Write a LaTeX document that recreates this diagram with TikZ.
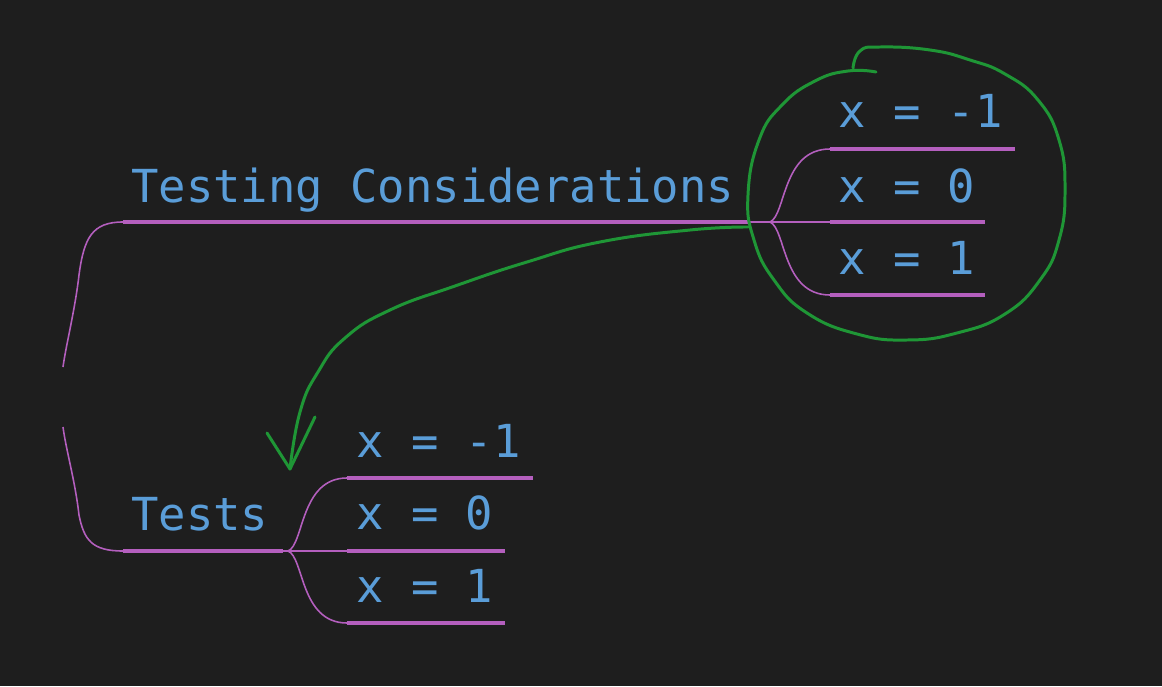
\documentclass[tikz,border=0pt]{standalone}
\usepackage{fontspec}
\usepackage{xcolor}
\usepackage{tikz}
\usetikzlibrary{positioning}

\newfontfamily\mapfont{DejaVu Sans Mono}
\definecolor{bgdark}{HTML}{1E1E1E}
\definecolor{topicblue}{HTML}{5A9DD8}
\definecolor{linkpurple}{HTML}{B45FBE}
\definecolor{pengreen}{HTML}{1F9636}

\begin{document}
\begin{tikzpicture}[x=0.02cm, y=-0.02cm,
		topic/.style={anchor=base west, inner sep=0pt, text=topicblue, font=\mapfont\fontsize{25.9}{30}\selectfont},
		underline/.style={draw=linkpurple, line width=2pt},
		twig/.style={draw=linkpurple, line width=0.9pt},
		pen/.style={draw=pengreen, line width=1.7pt, line cap=round, line join=round},
	]

		% background
		\fill[bgdark] (0,0) rectangle (1162,686);

		% nodes
		\node[topic] (tc)    at (131,202) {Testing Considerations};
		\node[topic] (tests) at (131,530) {Tests};

		\node[topic] (tcm1) at (838,128) {x = -1};
		\node[topic] (tc0)  at (838,202) {x = 0};
		\node[topic] (tcp1) at (838,274) {x = 1};

		\node[topic] (tsm1) at (356,457) {x = -1};
		\node[topic] (ts0)  at (356,529) {x = 0};
		\node[topic] (tsp1) at (356,602) {x = 1};

		% forks
		\coordinate (tcfork) at (770,222);
		\coordinate (tsfork) at (288,551);

		% lines
		\draw[underline] (123,222) -- (750,222);
		\draw[twig] (750,222) -- (tcfork) -- (830,222);
		\draw[twig] (123,222) .. controls (92,222) and (84,238) .. (79,275) .. controls (75,310) and (66,345) .. (63,367);
		\draw[twig] (63,427) .. controls (66,450) and (75,480) .. (79,515) .. controls (84,540) and (92,551) .. (123,551);
		\draw[underline] (123,551) -- (283,551);
		\draw[twig] (283,551) -- (tsfork) -- (347,551);

		\draw[twig] (tcfork) .. controls (786,215) and (782,149) .. (830,149);
		\draw[twig] (tcfork) .. controls (786,229) and (782,295) .. (830,295);
		\draw[underline] (830,149) -- (1015,149);
		\draw[underline] (830,222) -- (985,222);
		\draw[underline] (830,295) -- (985,295);

		\draw[twig] (tsfork) .. controls (304,545) and (300,478) .. (347,478);
		\draw[twig] (tsfork) .. controls (304,557) and (300,623) .. (347,623);
		\draw[underline] (347,478) -- (533,478);
		\draw[underline] (347,551) -- (505,551);
		\draw[underline] (347,623) -- (505,623);

		% green marks
		\draw[pen] plot[smooth, tension=0.8] coordinates {(876,72) (848,71) (815,81) (782,105) (759,140) (748,195) (754,240) (774,280) (807,313) (857,334) (907,340) (957,333) (1005,314) (1040,280) (1059,240) (1065,190) (1059,140) (1038,100) (1005,74) (970,60) (930,50) (880,47) (860,51) (853,68)};

		\coordinate (tip) at (290,469);
		\draw[pen] plot[smooth, tension=0.8] coordinates {(748,227) (690,230) (600,242) (527,262) (455,286) (390,310) (345,338) (318,372) (300,412) (tip)};
		\draw[pen] (267,433) -- (tip) -- (315,417);

	\end{tikzpicture}
\end{document}
